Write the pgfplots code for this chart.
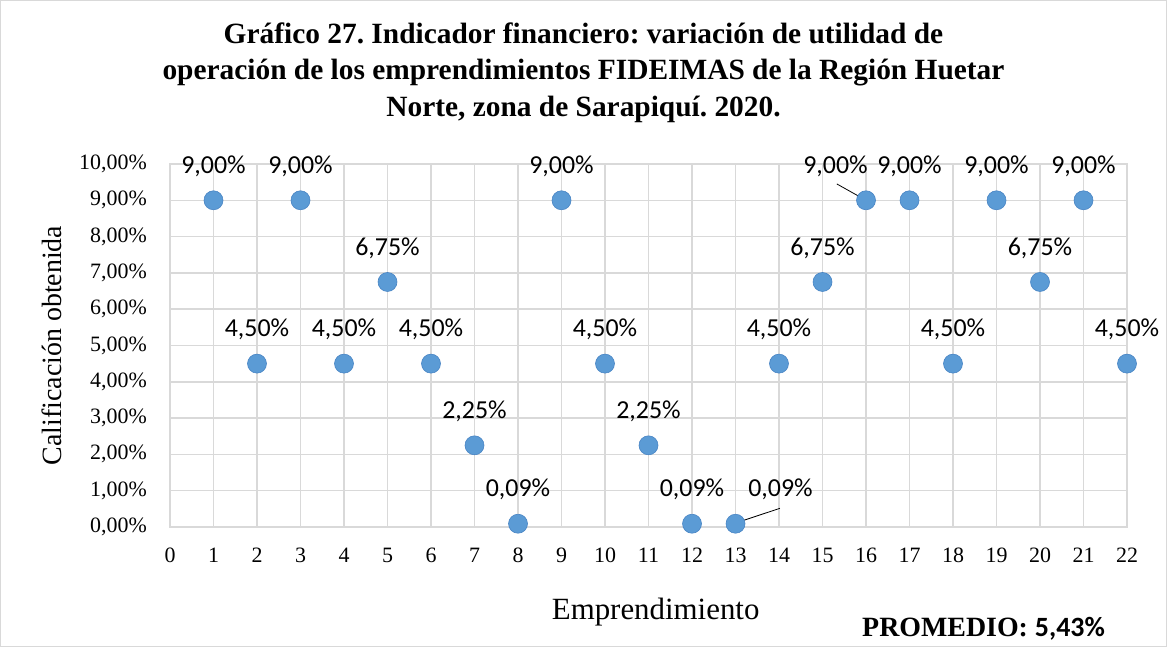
\documentclass[border=0pt]{standalone}
\usepackage{pgfplots}
\pgfplotsset{compat=1.18}
\usepackage{pgfplotstable}
\usepackage{fontspec}
\setmainfont{Liberation Serif}
\newfontfamily\calibri{Carlito}
\frenchspacing
\definecolor{gridc}{RGB}{217,217,217}
\definecolor{mk}{RGB}{91,155,213}
\definecolor{mkd}{RGB}{72,132,196}

\pgfplotstableread{
x y dx
1 9.00 0
2 4.50 0
3 9.00 0
4 4.50 0
5 6.75 0
6 4.50 0
7 2.25 0
8 0.09 0
9 9.00 0
10 4.50 0
11 2.25 0
12 0.09 0
13 0.09 45
14 4.50 0
15 6.75 0
16 9.00 -30.5
17 9.00 0
18 4.50 0
19 9.00 0
20 6.75 0
21 9.00 0
22 4.50 0
}\datatable

\begin{document}
\begin{tikzpicture}[x=1bp,y=1bp]
\path (0,0) rectangle (1167,649);
\draw[gridc, line width=1.5bp] (0.75,2.5) rectangle (1166.25,648.25);

\begin{axis}[
  at={(170bp,122bp)}, anchor=south west,
  scale only axis, width=957bp, height=363bp,
  xmin=0, xmax=22, ymin=0, ymax=10,
  xtick={0,...,22}, ytick={0,...,10},
  grid=major, grid style={gridc, line width=1.5bp},
  axis line style={gridc, line width=1.5bp},
  major tick length=0pt,
  /pgf/number format/assume math mode=true,
  tick label style={font=\fontsize{22}{26}\selectfont, text=black},
  xticklabel style={inner sep=0pt, anchor=north, yshift=-21bp},
  yticklabel style={inner sep=0pt, anchor=east, xshift=-23bp},
  yticklabel={\pgfmathprintnumber[fixed,fixed zerofill,precision=2,use comma]{\tick}\%},
  clip=false,
]
\addplot[only marks, mark=*, mark size=9.5bp,
  mark options={fill=mk, draw=mkd, line width=0.6bp},
  visualization depends on={\thisrow{dx}\as\dx},
  nodes near coords={\pgfmathprintnumber[fixed,fixed zerofill,precision=2,use comma,assume math mode=true]{\pgfplotspointmeta}\%},
  nodes near coords style={anchor=center, inner sep=0pt, text=black,
    font=\calibri\fontsize{26}{30}\selectfont, xshift=\dx*1bp, yshift=34bp},
  point meta=y,
] table[x=x, y=y] {\datatable};
\draw[black, line width=0.8bp] (axis cs:15.33,9.45) -- (axis cs:16,9);
\draw[black, line width=0.8bp] (axis cs:14.02,0.515) -- (axis cs:13.03,0.12);
\end{axis}

\node[anchor=base, font=\bfseries\fontsize{29.5}{36}\selectfont] at (583.5,605.7) {Gráfico 27. Indicador financiero: variación de utilidad de};
\node[anchor=base, font=\bfseries\fontsize{29.5}{36}\selectfont] at (583.5,569) {operación de los emprendimientos FIDEIMAS de la Región Huetar};
\node[anchor=base, font=\bfseries\fontsize{29.5}{36}\selectfont] at (583.5,532.3) {Norte, zona de Sarapiquí. 2020.};

\node[rotate=90, font=\fontsize{28}{32}\selectfont] at (51.7,303.5) {Calificación obtenida};
\node[anchor=base west, inner sep=0pt, font=\fontsize{31}{34}\selectfont] at (551.7,29) {Emprendimiento};
\node[anchor=base west, inner sep=0pt, font=\bfseries\fontsize{28}{32}\selectfont] at (862,12) {PROMEDIO: {\calibri 5,43\%}};
\end{tikzpicture}
\end{document}
